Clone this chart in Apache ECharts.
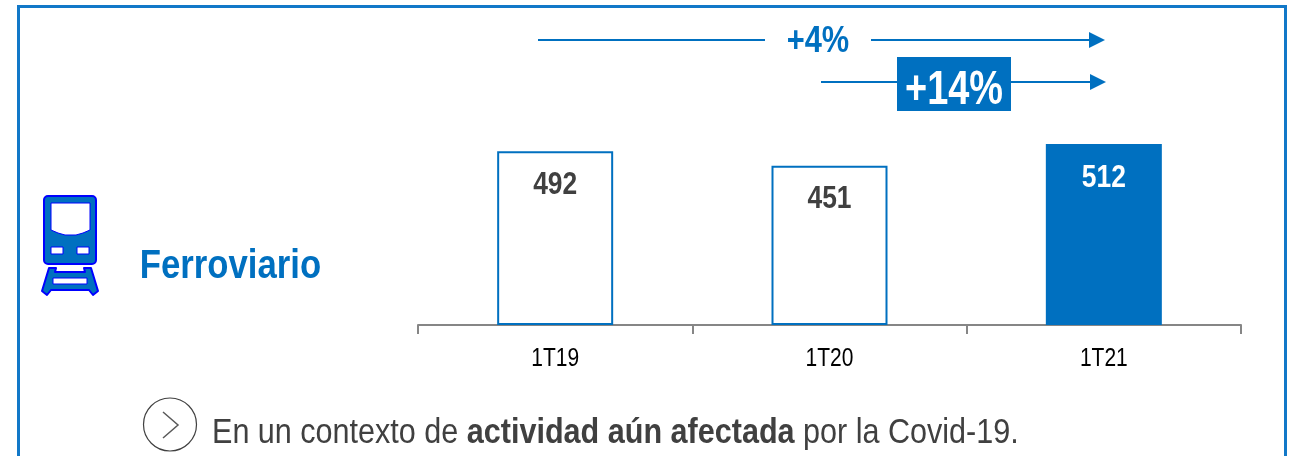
<!DOCTYPE html>
<html>
<head>
<meta charset="utf-8">
<style>
  html, body { margin: 0; padding: 0; background: #fff; }
  #chart { width: 1289px; height: 456px; }
</style>
<script src="https://cdn.jsdelivr.net/npm/echarts@6/dist/echarts.min.js"></script>
</head>
<body>
<div id="chart"></div>
<script>
// datos
const categories = ['1T19', '1T20', '1T21'];
const values = [492, 451, 512];
const growthAll = '+4%';
const growthLast = '+14%';
const title = 'Ferroviario';

const BLUE = '#0070c0';
const DARK = '#404040';
const FONT = '"Liberation Sans", Arial, sans-serif';

const chart = echarts.init(document.getElementById('chart'));

// flecha horizontal: linea mas punta
function arrow(x1, x2, y) {
  return [
    { type: 'line', shape: { x1: x1, y1: y, x2: x2 - 14, y2: y }, style: { stroke: BLUE, lineWidth: 2 } },
    { type: 'polygon', shape: { points: [[x2 - 16, y - 8], [x2, y], [x2 - 16, y + 8]] }, style: { fill: BLUE } }
  ];
}

// texto estrechado, la fuente original es mas condensada que Liberation
function label(text, x, y, size, color, scaleX, weight) {
  return {
    type: 'text', x: x, y: y, z: 10, scaleX: scaleX,
    style: { text: text, fill: color, font: (weight || 'bold') + ' ' + size + 'px ' + FONT, align: 'center', verticalAlign: 'middle' }
  };
}

// icono del tren
const trainIcon = [
  { type: 'rect', shape: { x: 44, y: 196, width: 52, height: 68, r: 4 }, style: { fill: BLUE, stroke: '#0000ff', lineWidth: 2 } },
  { type: 'polygon', shape: { points: [[51, 203], [90, 203], [90, 230], [83, 233], [76, 235], [65, 235], [58, 233], [51, 230]] }, style: { fill: '#fff', stroke: '#0000ff', lineWidth: 1 } },
  { type: 'rect', shape: { x: 51, y: 247, width: 12, height: 7 }, style: { fill: '#fff', stroke: '#0000ff', lineWidth: 1 } },
  { type: 'rect', shape: { x: 77, y: 247, width: 12, height: 7 }, style: { fill: '#fff', stroke: '#0000ff', lineWidth: 1 } },
  { type: 'polygon', shape: { points: [[49, 268], [56, 268], [55, 272], [85, 272], [84, 268], [91, 268], [98, 291], [93, 295], [89, 290], [51, 290], [47, 295], [42, 291]] }, style: { fill: BLUE, stroke: '#0000ff', lineWidth: 2, lineJoin: 'round' } },
  { type: 'rect', shape: { x: 53, y: 278, width: 34, height: 6 }, style: { fill: '#fff', stroke: '#0000ff', lineWidth: 1 } }
];

const decoration = [
  // marco
  { type: 'rect', shape: { x: 18.5, y: 6.5, width: 1267, height: 470 }, style: { fill: 'none', stroke: '#1278c8', lineWidth: 3 } },
  ...arrow(871, 1105, 40),
  { type: 'line', shape: { x1: 538, y1: 40, x2: 765, y2: 40 }, style: { stroke: BLUE, lineWidth: 2 } },
  ...arrow(821, 1106, 82),
  { type: 'rect', shape: { x: 897, y: 57, width: 114, height: 54 }, style: { fill: BLUE } },
  label(growthAll, 818, 42, 37, BLUE, 0.832),
  label(growthLast, 954, 90, 49, '#fff', 0.773),
  label(title, 230.5, 267, 40, BLUE, 0.868),
  ...trainIcon,
  // linea de comentario
  { type: 'circle', shape: { cx: 170, cy: 424.5, r: 26.5 }, style: { fill: 'none', stroke: DARK, lineWidth: 1.2 } },
  { type: 'polyline', shape: { points: [[163, 412], [178, 425], [163, 438]] }, style: { fill: 'none', stroke: '#595959', lineWidth: 1.5 } },
  {
    type: 'text', x: 212, y: 433, scaleX: 0.873,
    style: {
      text: '{n|En un contexto de }{b|actividad aún afectada}{n| por la Covid-19.}',
      verticalAlign: 'middle',
      rich: {
        n: { fill: DARK, font: '35px ' + FONT },
        b: { fill: DARK, font: 'bold 35px ' + FONT }
      }
    }
  }
];

const option = {
  animation: false,
  backgroundColor: '#fff',
  grid: { left: 418, right: 48, top: 113, bottom: 131 },
  xAxis: {
    type: 'category',
    data: categories,
    axisLine: { lineStyle: { color: '#868686', width: 2 } },
    axisTick: { show: true, length: 9, lineStyle: { color: '#868686', width: 2 } },
    axisLabel: { show: false }
  },
  yAxis: { type: 'value', min: 0, max: 600, show: false, splitLine: { show: false } },
  series: [{
    type: 'bar',
    barWidth: 116,
    data: values.map(function (v, i) {
      const last = i === values.length - 1;
      return {
        value: v,
        itemStyle: { color: last ? BLUE : '#fff', borderColor: BLUE, borderWidth: 2 }
      };
    })
  }],
  graphic: decoration
};

chart.setOption(option);

// etiquetas colocadas con la escala del grafico, para poder estrecharlas
const scaled = [];
categories.forEach(function (c, i) {
  const top = chart.convertToPixel({ seriesIndex: 0 }, [i, values[i]]);
  const base = chart.convertToPixel({ seriesIndex: 0 }, [i, 0]);
  const last = i === values.length - 1;
  scaled.push(label(String(values[i]), top[0], top[1] + 34, 32, last ? '#fff' : DARK, 0.825));
  scaled.push(label(c, base[0], base[1] + 34, 25, '#000', 0.84, 'normal'));
});
chart.setOption({ graphic: decoration.concat(scaled) });
</script>
</body>
</html>
